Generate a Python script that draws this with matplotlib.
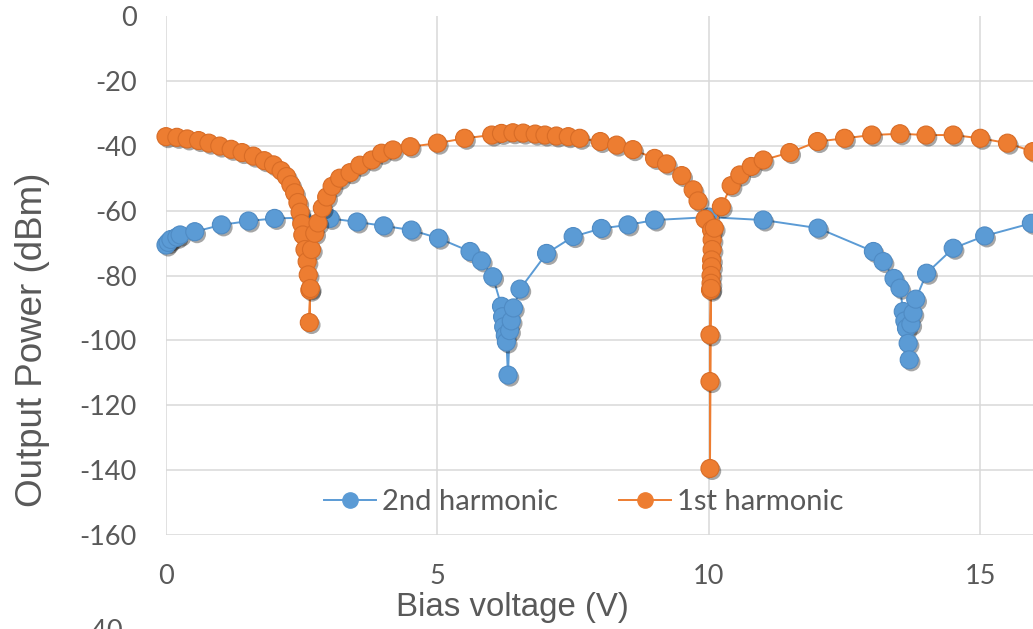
import matplotlib
matplotlib.use("Agg")
import matplotlib.pyplot as plt
import matplotlib.patheffects as pe
from matplotlib.lines import Line2D

plt.rcParams["axes.unicode_minus"] = False

# ---- data ----
# 1st harmonic (orange)
first_x = [0.0, 0.2, 0.39, 0.6, 0.79,
           0.99, 1.2, 1.4, 1.61, 1.81,
           1.98, 2.12, 2.22, 2.3, 2.37,
           2.43, 2.47, 2.5, 2.52, 2.56,
           2.6, 2.62, 2.65, 2.64, 2.66,
           2.68, 2.74, 2.8, 2.88, 2.96,
           3.06, 3.2, 3.39, 3.57, 3.79,
           3.97, 4.18, 4.5, 5.0, 5.5,
           6.0, 6.18, 6.39, 6.58, 6.8,
           6.98, 7.19, 7.41, 7.62, 8.0,
           8.3, 8.6, 9.0, 9.22, 9.5,
           9.71, 9.8, 9.93, 10.05, 10.06,
           10.06, 10.05, 10.05, 10.04, 10.04,
           10.03, 10.02, 10.02, 10.02, 10.04,
           10.1, 10.23, 10.41, 10.57, 10.78,
           11.0, 11.49, 12.0, 12.5, 13.0,
           13.52, 14.0, 14.5, 15.0, 15.5,
           15.97]
first_y = [-37.2, -37.4, -37.9, -38.4, -39.2,
           -40.1, -41.1, -42.1, -43.2, -44.6,
           -45.9, -47.7, -49.5, -52.0, -54.5,
           -57.5, -60.5, -64.0, -67.5, -72.0,
           -75.7, -79.8, -84.5, -94.5, -84.0,
           -72.0, -67.0, -63.8, -59.2, -55.8,
           -52.5, -50.0, -48.3, -46.0, -44.4,
           -42.3, -41.3, -40.3, -39.2, -37.7,
           -36.7, -36.2, -36.0, -36.1, -36.4,
           -36.7, -37.0, -37.2, -37.7, -38.7,
           -39.8, -41.2, -43.9, -45.6, -49.2,
           -53.6, -57.0, -62.6, -66.0, -69.0,
           -72.0, -75.2, -77.3, -80.0, -82.4,
           -84.5, -98.3, -112.7, -139.5, -84.0,
           -65.4, -58.8, -52.3, -49.0, -46.4,
           -44.4, -42.1, -38.7, -37.7, -36.7,
           -36.3, -36.7, -36.7, -37.7, -39.2,
           -41.8]

# 2nd harmonic (blue)
second_x = [0.0, 0.04, 0.09, 0.2, 0.26,
            0.53, 1.02, 1.52, 2.0, 2.5,
            3.02, 3.52, 4.01, 4.52, 5.02,
            5.6, 5.81, 6.02, 6.18, 6.2,
            6.22, 6.25, 6.27, 6.3, 6.33,
            6.36, 6.4, 6.52, 7.01, 7.5,
            8.02, 8.51, 9.0, 10.0, 11.0,
            12.01, 13.03, 13.21, 13.41, 13.52,
            13.58, 13.61, 13.64, 13.67, 13.69,
            13.72, 13.76, 13.81, 14.01, 14.5,
            15.08, 15.94]
second_y = [-70.6, -69.8, -68.9, -68.2, -67.5,
            -66.5, -64.4, -63.2, -62.4, -62.2,
            -62.4, -63.5, -64.7, -66.0, -68.5,
            -72.6, -75.5, -80.4, -89.5, -92.7,
            -95.8, -98.5, -100.5, -110.7, -97.0,
            -94.0, -90.0, -84.2, -73.2, -68.0,
            -65.5, -64.4, -62.9, -62.0, -62.9,
            -65.4, -72.6, -75.7, -80.9, -83.9,
            -91.1, -94.0, -96.3, -100.9, -106.0,
            -95.0, -91.6, -87.3, -79.3, -71.6,
            -67.8, -63.9]

x_ticks = [0, 5, 10, 15]
y_ticks = [0, -20, -40, -60, -80, -100, -120, -140, -160]
series_names = ["2nd harmonic", "1st harmonic"]

# ---- style ----
BLUE = "#5B9BD5"
ORANGE = "#ED7D31"
GRAY = "#595959"
GRID = "#D9D9D9"
TICKFONT = ["Lato", "DejaVu Sans"]
LABELFONT = ["Liberation Sans", "DejaVu Sans"]

W, H = 1033, 629
fig = plt.figure(figsize=(W / 100, H / 100), dpi=100)
left, right, top, bottom = 166, 1033, 16, 535
aw, ah = right - left, bottom - top
ax = fig.add_axes([left / W, 1 - bottom / H, aw / W, ah / H])

ax.set_xlim(0, 15.97)
ax.set_ylim(-160, 0)
ax.set_xticks(x_ticks)
ax.set_yticks(y_ticks)
ax.grid(True, color=GRID, linewidth=1.1, zorder=0)
ax.set_axisbelow(True)
for s in ax.spines.values():
    s.set_visible(False)
ax.tick_params(length=0, colors=GRAY, labelsize=19.5)
ax.tick_params(axis="x", pad=21)
ax.tick_params(axis="y", pad=21)
for lab in ax.get_xticklabels() + ax.get_yticklabels():
    lab.set_family(TICKFONT)
# no horizontal gridline along the top (value 0)
ax.yaxis.get_gridlines()[0].set_visible(False)

shadow = [pe.SimplePatchShadow(offset=(1.6, -1.8), shadow_rgbFace="black", alpha=0.35), pe.Normal()]
ms = 13

def draw(xs, ys, color, edge, z):
    ax.plot(xs, ys, color=color, linewidth=1.4, zorder=z, clip_on=False)
    ax.plot(xs, ys, linestyle="none", marker="o", markersize=ms, markerfacecolor=color,
            markeredgecolor=edge, markeredgewidth=0.8, zorder=z + 0.5, clip_on=False,
            path_effects=shadow)

draw(second_x, second_y, BLUE, "#4F8BC4", 3)
draw(first_x, first_y, ORANGE, "#D86C26", 4)

ax.set_xlabel("Bias voltage (V)", fontsize=23.8, color=GRAY, family=LABELFONT)
ax.xaxis.set_label_coords((512.5 - left) / aw, (bottom - 592) / ah)
ax.set_ylabel("Output Power (dBm)", fontsize=26.5, color=GRAY, family=LABELFONT)
ax.yaxis.set_label_coords((50 - left) / aw, (bottom - 339.5) / ah)

handles = [
    Line2D([], [], color=BLUE, linewidth=1.4, marker="o", markersize=11,
           markerfacecolor=BLUE, markeredgecolor=BLUE),
    Line2D([], [], color=ORANGE, linewidth=1.4, marker="o", markersize=11,
           markerfacecolor=ORANGE, markeredgecolor=ORANGE),
]
leg = ax.legend(handles, series_names, loc="center",
                bbox_to_anchor=((584 - left) / aw, (bottom - 502.5) / ah), ncol=2,
                frameon=False, prop={"family": TICKFONT, "size": 21}, handlelength=1.78,
                handletextpad=0.2, columnspacing=2.1, borderpad=0, borderaxespad=0)
for t in leg.get_texts():
    t.set_color(GRAY)
leg.set_zorder(10)

# partially visible tick label of the chart below
fig.text(123 / W, 1 - 619 / H, "-40", ha="right", va="top", fontsize=19.5, color=GRAY,
         family=TICKFONT)

fig.savefig("out.png", dpi=100)
